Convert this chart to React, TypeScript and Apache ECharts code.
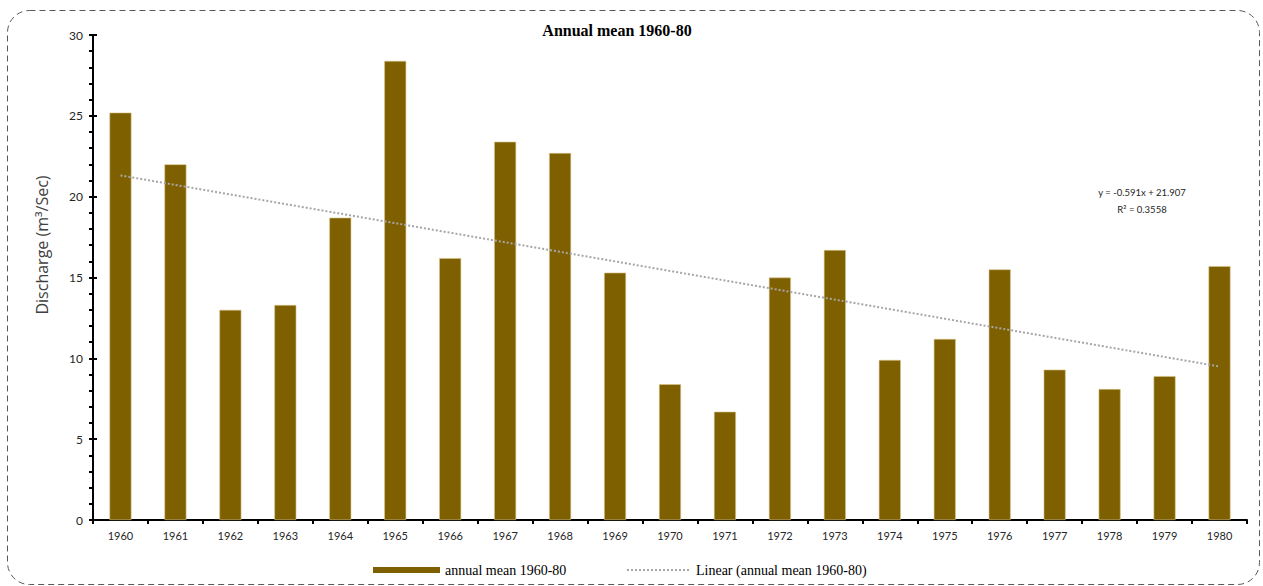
import React, { useEffect, useRef } from "react";
import * as echarts from "echarts";

const years = ["1960","1961","1962","1963","1964","1965","1966","1967","1968","1969","1970","1971","1972","1973","1974","1975","1976","1977","1978","1979","1980"];
const annualMean = [25.2, 22.0, 13.0, 13.3, 18.7, 28.4, 16.2, 23.4, 22.7, 15.3, 8.4, 6.7, 15.0, 16.7, 9.9, 11.2, 15.5, 9.3, 8.1, 8.9, 15.7];
const trendPoints: [string, number][] = [["1960", 21.316], ["1980", 9.496]];
const equationLines = ["y = -0.591x + 21.907", "R² = 0.3558"];
const yTicks = { min: 0, max: 30, interval: 5 };
const titleText = "Annual mean 1960-80";
const yAxisName = "Discharge (m³/Sec)";

export default function App() {
  const ref = useRef<HTMLDivElement>(null);
  useEffect(() => {
    if (!ref.current) return;
    const chart = echarts.init(ref.current, null, { renderer: "svg" });
    const labelFont = "Lato, 'Open Sans', sans-serif";
    const serif = "'Liberation Serif', serif";
    chart.setOption({
      animation: false,
      grid: { left: 93, right: 16, top: 35, bottom: 66, containLabel: false },
      legend: [
        {
          bottom: 9,
          left: 373,
          padding: 0,
          itemWidth: 67,
          itemHeight: 6,
          textStyle: { fontFamily: serif, fontSize: 14, color: "#000" },
          data: [{ name: "annual mean 1960-80", icon: "rect", itemStyle: { borderWidth: 0 } }],
        },
        {
          bottom: 9,
          left: 626,
          padding: 0,
          itemWidth: 64,
          itemHeight: 6,
          textStyle: { fontFamily: serif, fontSize: 14, color: "#000" },
          data: [{ name: "Linear (annual mean 1960-80)", itemStyle: { opacity: 0 } }],
        },
      ],
      graphic: [
        {
          type: "rect",
          left: 5,
          top: 8,
          shape: { width: 1252, height: 574, r: 22 },
          style: { fill: "none", stroke: "#595959", lineWidth: 1, lineDash: [6, 4] },
          silent: true,
        },
        {
          type: "text",
          x: 617,
          y: 22,
          style: {
            text: titleText,
            fontFamily: serif,
            fontWeight: "bold",
            fontSize: 16,
            fill: "#000",
            align: "center",
          },
        },
        {
          type: "text",
          x: 42,
          y: 245,
          rotation: Math.PI / 2,
          style: {
            text: yAxisName,
            fontFamily: "'Open Sans', sans-serif",
            fontSize: 16,
            fill: "#404040",
            align: "center",
            verticalAlign: "middle",
          },
        },
        {
          type: "text",
          x: 1142,
          y: 184,
          style: {
            text: equationLines.join("\n"),
            fontFamily: labelFont,
            fontSize: 9.5,
            lineHeight: 17,
            fill: "#262626",
            align: "center",
          },
        },
      ],
      xAxis: [
        {
          type: "category",
          data: years,
          axisLine: { lineStyle: { color: "#000", width: 2 } },
          axisTick: { show: true, alignWithLabel: false, length: 4, lineStyle: { color: "#000", width: 2 } },
          axisLabel: { fontFamily: labelFont, fontSize: 11, color: "#262626", margin: 10 },
        },
        {
          type: "category",
          data: years,
          position: "bottom",
          axisLine: { show: false },
          axisTick: { show: true, alignWithLabel: true, inside: true, length: 4, lineStyle: { color: "#000", width: 2 } },
          axisLabel: { show: false },
        },
      ],
      yAxis: [
        {
          type: "value",
          min: yTicks.min,
          max: yTicks.max,
          interval: yTicks.interval,
          splitLine: { show: false },
          axisLine: { show: true, lineStyle: { color: "#000", width: 2 } },
          axisTick: { show: true, length: 4, lineStyle: { color: "#000", width: 2 } },
          minorTick: { show: true, splitNumber: 5, length: 4, lineStyle: { color: "#000", width: 2 } },
          axisLabel: { fontFamily: labelFont, fontSize: 12, color: "#262626", margin: 10 },
        },
        {
          type: "value",
          min: yTicks.min,
          max: yTicks.max,
          interval: yTicks.interval,
          position: "left",
          splitLine: { show: false },
          axisLine: { show: false },
          axisTick: { show: true, inside: true, length: 4, lineStyle: { color: "#000", width: 2 } },
          minorTick: { show: false },
          axisLabel: { show: false },
        },
      ],
      series: [
        {
          name: "annual mean 1960-80",
          type: "bar",
          data: annualMean,
          barWidth: "40%",
          itemStyle: { color: "#7F6000", borderColor: "#D9C48C", borderWidth: 0.6 },
        },
        {
          name: "Linear (annual mean 1960-80)",
          type: "line",
          data: trendPoints,
          symbol: "none",
          lineStyle: { color: "#A6A6A6", width: 2, type: [2, 2] },
          itemStyle: { color: "#A6A6A6" },
          z: 5,
        },
      ],
    });
    return () => chart.dispose();
  }, []);
  return (
    <div
      ref={ref}
      style={{ position: "absolute", left: 0, top: 0, width: 1263, height: 586, background: "#fff" }}
    />
  );
}
